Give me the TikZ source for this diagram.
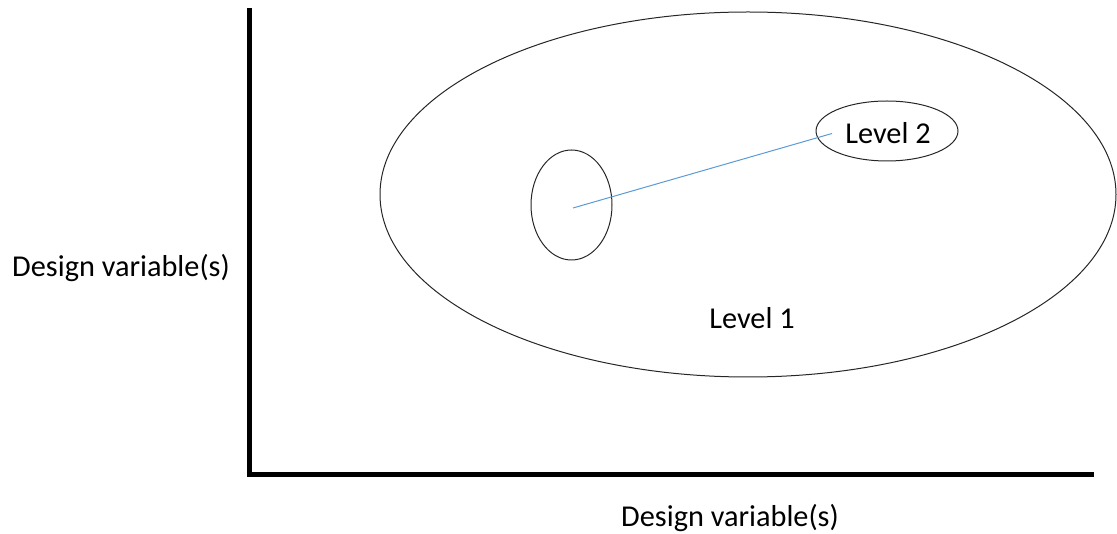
\documentclass[tikz,border=0pt]{standalone}
\usepackage{fontspec}
\setmainfont{Carlito}
\usetikzlibrary{calc,shapes.geometric}
\definecolor{linkblue}{RGB}{91,155,213}
\begin{document}
\begin{tikzpicture}[x=1pt,y=-1pt,
  axis/.style={line width=5.5pt,line cap=butt},
  region/.style={draw=black!85,line width=1pt,ellipse,inner sep=0pt},
  lbl/.style={font=\fontsize{30.3}{34}\selectfont,inner sep=0pt}]
  \useasboundingbox (0,0) rectangle (1117,534);
  % axes
  \coordinate (top) at (249.7,8);
  \coordinate (origin) at (249.7,474.7);
  \coordinate (right) at (1094,474.7);
  \draw[axis] (top) -- ($(origin)+(0,-2.75)$);
  \draw[axis] ($(origin)+(-2.75,0)$) -- (right);
  % regions
  \node[region,minimum width=736pt,minimum height=365pt] (level1) at (748,194.5) {};
  \node[region,minimum width=81pt,minimum height=110pt] (start) at (571.5,205) {};
  \node[region,minimum width=142pt,minimum height=60pt] (level2) at (887,131) {};
  % link between regions
  \coordinate (p2) at (832,133.5);
  \draw[linkblue,line width=1pt] ($(start.center)+(1.5,3)$) -- (p2);
  % labels
  \node[lbl] (l2) at (888,133) {Level 2};
  \node[lbl] (l1) at (752,318) {Level 1};
  \node[lbl] (yl) at (121,268) {Design variable(s)};
  \node[lbl] (xl) at (730,518) {Design variable(s)};
\end{tikzpicture}
\end{document}
